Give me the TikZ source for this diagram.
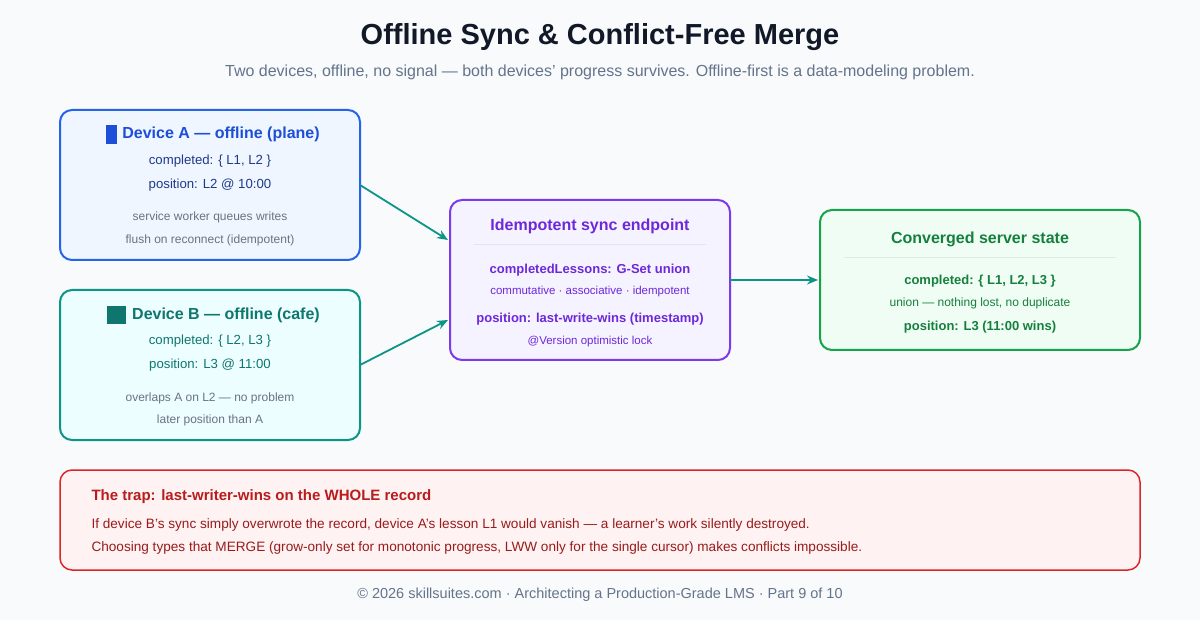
\documentclass[tikz,border=0pt]{standalone}
\usepackage{fontspec}
\setmainfont{Liberation Sans}
\usetikzlibrary{arrows.meta}
\definecolor{bg}{HTML}{F8FAFC}
\definecolor{aB}{HTML}{2563EB}\definecolor{aF}{HTML}{EFF6FF}\definecolor{aT}{HTML}{1D4ED8}\definecolor{aX}{HTML}{1E3A8A}
\definecolor{bB}{HTML}{0D9488}\definecolor{bF}{HTML}{ECFEFF}\definecolor{bT}{HTML}{0F766E}
\definecolor{sB}{HTML}{7C3AED}\definecolor{sF}{HTML}{F5F3FF}\definecolor{sT}{HTML}{6D28D9}
\definecolor{cB}{HTML}{16A34A}\definecolor{cF}{HTML}{F0FDF4}\definecolor{cT}{HTML}{15803D}
\definecolor{rB}{HTML}{DC2626}\definecolor{rF}{HTML}{FEF2F2}\definecolor{rT}{HTML}{B91C1C}\definecolor{rX}{HTML}{991B1B}
\definecolor{gr}{HTML}{6B7280}\definecolor{tt}{HTML}{111827}\definecolor{st}{HTML}{64748B}
\definecolor{arr}{HTML}{0D9488}
\begin{document}
\begin{tikzpicture}[x=1pt,y=-1pt,
 box/.style={draw=#1B,fill=#1F,line width=2pt,rounded corners=12pt},
 t/.style={font=\fontsize{16}{19}\selectfont\bfseries,anchor=center},
 b/.style={font=\fontsize{13.2}{16}\selectfont,anchor=center},
 bb/.style={font=\fontsize{13}{16}\selectfont\bfseries,anchor=center},
 n/.style={font=\fontsize{12}{14}\selectfont,anchor=center,text=gr},
 ar/.style={draw=arr,line width=1.8pt,-{Stealth[length=11pt,width=9pt]}}]
\fill[bg] (0,0) rectangle (1200,620);
\node[font=\fontsize{29}{34}\selectfont\bfseries,text=tt] (title) at (600,37) {Offline Sync \& Conflict-Free Merge};
\node[font=\fontsize{16}{19}\selectfont,text=st] (sub) at (600,72) {Two devices, offline, no signal — both devices' progress survives. Offline-first is a data-modeling problem.};
% Device A
\path[box=a] (60,110) rectangle (360,260);
\coordinate (A) at (360,185);
\fill[aT] (106,125) rectangle (117,144);
\node[t,text=aT] (at) at (221,134) {Device A — offline (plane)};
\node[b,text=aX] (a1) at (210,161) {completed: \{ L1, L2 \}};
\node[b,text=aX] (a2) at (210,185) {position: L2 @ 10:00};
\node[n] (a3) at (210,217) {service worker queues writes};
\node[n] (a4) at (210,240) {flush on reconnect (idempotent)};
% Device B
\path[box=b] (60,290) rectangle (360,440);
\coordinate (B) at (360,365);
\fill[bT] (107,306) rectangle (126,324);
\node[t,text=bT] (bt) at (226,315) {Device B — offline (cafe)};
\node[b,text=bT] (b1) at (210,341) {completed: \{ L2, L3 \}};
\node[b,text=bT] (b2) at (210,365) {position: L3 @ 11:00};
\node[n] (b3) at (210,398) {overlaps A on L2 — no problem};
\node[n] (b4) at (210,420) {later position than A};
% Sync
\path[box=s] (450,200) rectangle (730,360);
\coordinate (S1) at (448,240);\coordinate (S2) at (448,320);\coordinate (S3) at (730,280);
\node[t,text=sT] (st) at (590,226) {Idempotent sync endpoint};
\draw[sT!15,line width=1pt] (474,245) -- (706,245);
\node[bb,text=sT] (s1) at (590,270) {completedLessons: G-Set union};
\node[n,text=sT,font=\fontsize{11.5}{14}\selectfont] (s2) at (590,292) {commutative · associative · idempotent};
\node[bb,text=sT] (s3) at (590,319) {position: last-write-wins (timestamp)};
\node[n,text=sT,font=\fontsize{11.5}{14}\selectfont] (s4) at (590,342) {@Version optimistic lock};
% Converged
\path[box=c] (820,210) rectangle (1140,350);
\coordinate (C) at (818,280);
\node[t,text=cT] (ct) at (980,239) {Converged server state};
\draw[cT!15,line width=1pt] (844,258) -- (1116,258);
\node[bb,text=cT] (c1) at (980,281) {completed: \{ L1, L2, L3 \}};
\node[n,text=cT] (c2) at (980,303) {union — nothing lost, no duplicate};
\node[bb,text=cT] (c3) at (980,327) {position: L3 (11:00 wins)};
% arrows
\draw[ar] (A) -- (S1);
\draw[ar] (B) -- (S2);
\draw[ar] (S3) -- (C);
% trap
\path[box=r,line width=1.5pt] (60,470) rectangle (1140,570);
\node[bb,text=rT,anchor=west,font=\fontsize{15}{18}\selectfont\bfseries] (rt) at (88,497) {The trap: last-writer-wins on the WHOLE record};
\node[b,text=rX,anchor=west,font=\fontsize{13.6}{16}\selectfont] (r1) at (88,525) {If device B's sync simply overwrote the record, device A's lesson L1 would vanish — a learner's work silently destroyed.};
\node[b,text=rX,anchor=west,font=\fontsize{13.6}{16}\selectfont] (r2) at (88,548) {Choosing types that MERGE (grow-only set for monotonic progress, LWW only for the single cursor) makes conflicts impossible.};
\node[font=\fontsize{14.5}{17}\selectfont,text=st] (foot) at (600,595) {© 2026 skillsuites.com · Architecting a Production-Grade LMS · Part 9 of 10};
\end{tikzpicture}
\end{document}
